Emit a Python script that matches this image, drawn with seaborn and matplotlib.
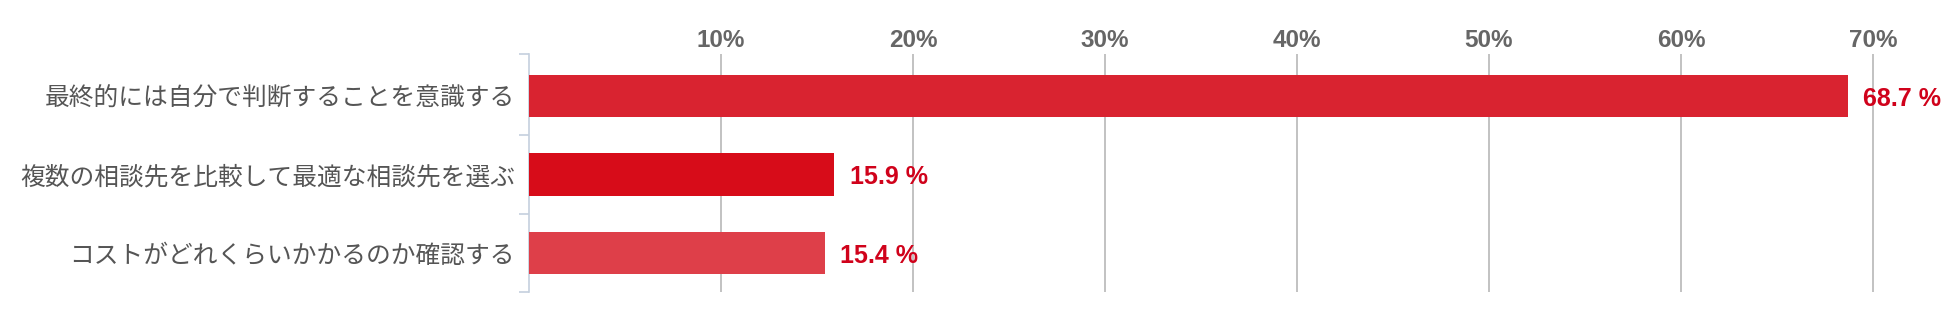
import matplotlib
matplotlib.use("Agg")
import matplotlib.pyplot as plt
import seaborn as sns
import pandas as pd
from matplotlib.ticker import FixedLocator

categories = [
    "最終的には自分で判断することを意識する",
    "複数の相談先を比較して最適な相談先を選ぶ",
    "コストがどれくらいかかるのか確認する",
]
values = [68.7, 15.9, 15.4]
bar_colors = ["#d92330", "#d70c19", "#de3f49"]
x_ticks = [10, 20, 30, 40, 50, 60, 70]
x_tick_labels = ["10%", "20%", "30%", "40%", "50%", "60%", "70%"]

sns.set_theme(style="white")
plt.rcParams["font.family"] = ["Noto Sans CJK JP", "DejaVu Sans"]

df = pd.DataFrame({"item": categories, "value": values})

fig = plt.figure(figsize=(19.5, 3.19), dpi=100)
ax = fig.add_axes([529 / 1950, 27 / 319, 1382.4 / 1950, 238 / 319])

sns.barplot(data=df, x="value", y="item", hue="item", palette=bar_colors,
            orient="h", width=0.54, legend=False, ax=ax, zorder=3,
            edgecolor="none", saturation=1)

ax.set_xlim(0, 72)
ax.set_ylim(2.5, -0.535)
ax.set_xlabel("")
ax.set_ylabel("")

# x axis on top
ax.xaxis.tick_top()
ax.set_xticks(x_ticks)
ax.set_xticklabels(x_tick_labels)
for t in ax.get_xticklabels():
    t.set_family(["Liberation Sans", "DejaVu Sans"])
    t.set_fontweight("bold")
    t.set_fontsize(17.5)
    t.set_color("#666666")
ax.tick_params(axis="x", which="both", length=0, pad=1.5, top=True, bottom=False)
ax.xaxis.grid(True, color="#bdbdbd", linewidth=1.3, zorder=0)
ax.yaxis.grid(False)
ax.set_axisbelow(True)

# y axis
ax.tick_params(axis="y", which="major", length=0, pad=10, labelsize=17.8,
               labelcolor="#555555")
ax.yaxis.set_minor_locator(FixedLocator([-0.535, 0.5, 1.5, 2.5]))
ax.tick_params(axis="y", which="minor", length=7, width=1.2, color="#c5d0de",
               left=True)

for s in ["top", "right", "bottom"]:
    ax.spines[s].set_visible(False)
ax.spines["left"].set_color("#c5d0de")
ax.spines["left"].set_linewidth(1.2)

for cont in ax.containers:
    labels = ax.bar_label(cont, fmt="%.1f %%", padding=11, color="#d0021b",
                          fontsize=18, fontweight="bold",
                          family=["Liberation Sans", "DejaVu Sans"])
    for lb in labels:
        lb.set_va("center")
        lb.xyann = (11, -2)
        lb.set_zorder(5)

fig.savefig("out.png", dpi=100)
